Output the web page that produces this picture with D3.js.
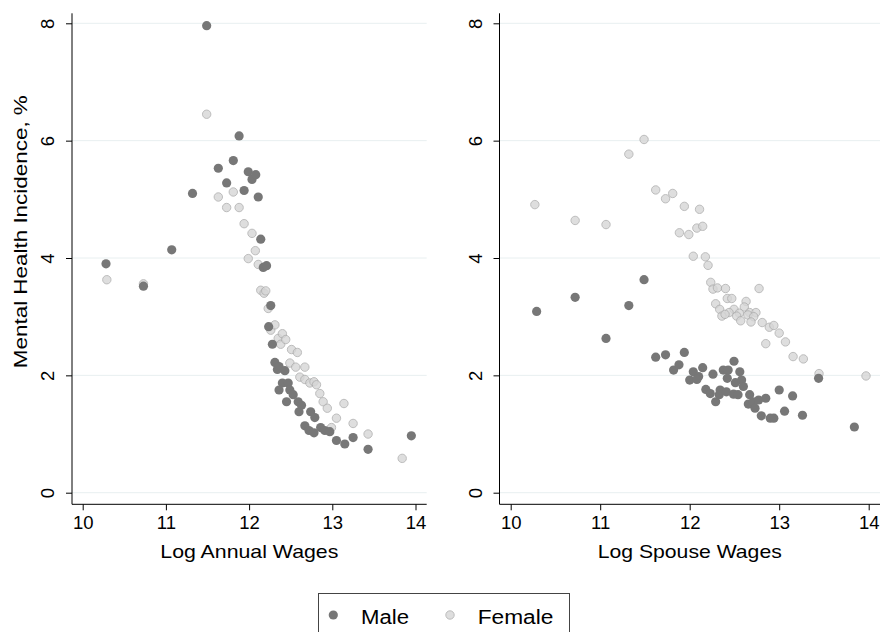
<!DOCTYPE html>
<html><head><meta charset="utf-8">
<script src="https://cdn.jsdelivr.net/npm/d3@7"></script>
<style>body{margin:0;background:#fff}svg{display:block}text{font-family:"Liberation Sans",Arial,sans-serif;fill:#000}</style>
</head><body><svg id="c" width="880" height="632"></svg>
<script>
// ---- data ----
const xTicks = [10, 11, 12, 13, 14];
const yTicks = [0, 2, 4, 6, 8];
const seriesNames = ["Male", "Female"];
const panelTitles = ["Log Annual Wages", "Log Spouse Wages"];
const yTitle = "Mental Health Incidence, %";

const annualMaleX = [10.28,10.73,11.07,11.32,11.49,11.63,11.73,11.81,11.88,11.94,11.99,12.035,12.08,12.11,12.14,12.17,12.21,12.26,12.235,12.28,12.31,12.34,12.36,12.43,12.40,12.47,12.36,12.49,12.53,12.45,12.59,12.63,12.60,12.74,12.79,12.67,12.72,12.78,12.86,12.91,12.97,13.05,13.15,13.25,13.43,13.95];
const annualMaleY = [3.90,3.52,4.14,5.10,7.96,5.53,5.28,5.66,6.08,5.15,5.47,5.34,5.42,5.04,4.32,3.84,3.87,3.19,2.83,2.53,2.22,2.10,2.15,2.08,1.87,1.87,1.75,1.75,1.67,1.55,1.55,1.49,1.38,1.38,1.28,1.14,1.06,1.02,1.11,1.06,1.04,0.89,0.83,0.94,0.74,0.97];
const annualFemaleX = [10.29,10.73,11.49,11.63,11.73,11.81,11.88,11.94,11.99,12.035,12.075,12.11,12.14,12.18,12.20,12.23,12.26,12.31,12.35,12.38,12.40,12.44,12.51,12.58,12.49,12.56,12.67,12.61,12.67,12.73,12.78,12.81,12.85,12.89,12.94,13.14,13.05,12.99,13.25,13.43,13.84];
const annualFemaleY = [3.63,3.56,6.45,5.04,4.86,5.125,4.86,4.585,3.99,4.42,4.125,3.89,3.45,3.40,3.44,3.14,2.77,2.86,2.63,2.53,2.71,2.61,2.44,2.39,2.21,2.14,2.14,1.97,1.93,1.87,1.89,1.84,1.69,1.55,1.44,1.52,1.27,1.11,1.18,1.00,0.585];

const spouseMaleX = [10.29,10.72,11.065,11.32,11.49,11.62,11.73,11.82,11.88,11.94,12.00,12.04,12.10,12.08,12.145,12.26,12.18,12.23,12.29,12.33,12.375,12.43,12.495,12.42,12.34,12.41,12.49,12.54,12.56,12.51,12.58,12.60,12.67,12.655,12.71,12.77,12.85,12.73,12.80,12.90,12.94,13.00,13.06,13.15,13.26,13.44,13.84];
const spouseMaleY = [3.09,3.33,2.63,3.19,3.63,2.31,2.35,2.09,2.18,2.39,1.92,2.06,1.98,1.93,2.13,2.02,1.76,1.69,1.55,1.67,2.09,2.09,2.24,1.95,1.75,1.72,1.68,1.67,2.06,1.875,1.92,1.81,1.67,1.51,1.55,1.58,1.61,1.44,1.31,1.27,1.27,1.75,1.39,1.65,1.32,1.95,1.12];
const spouseFemaleX = [10.27,10.72,11.065,11.32,11.49,11.62,11.73,11.81,11.94,12.11,11.885,11.99,12.08,12.145,12.04,12.175,12.205,12.235,12.26,12.31,12.40,12.775,12.42,12.47,12.63,12.29,12.335,12.495,12.61,12.44,12.555,12.67,12.74,12.36,12.395,12.525,12.65,12.715,12.57,12.685,12.81,12.89,12.94,13.00,13.07,12.85,13.155,13.27,13.445,13.97];
const spouseFemaleY = [4.91,4.64,4.57,5.77,6.02,5.16,5.01,5.10,4.88,4.83,4.43,4.40,4.51,4.54,4.03,4.02,3.875,3.585,3.47,3.49,3.48,3.48,3.31,3.31,3.26,3.22,3.125,3.125,3.165,3.07,3.06,3.07,3.07,3.01,3.04,3.01,3.03,3.00,2.93,2.91,2.90,2.82,2.85,2.72,2.57,2.54,2.32,2.28,2.03,1.99];

// ---- layout ----
const svg = d3.select("#c");
const maleStyle = {fill:"#777777", stroke:"none", r:4.6, op:1};
const femaleStyle = {fill:"#d6d6d6", stroke:"#adadad", r:4.2, op:0.8};

const panels = [
  {left:72, right:426.7, x0:82.7, x1:415.5, title:panelTitles[0], titleLen:178, showYTitle:true,
   male:[annualMaleX, annualMaleY], female:[annualFemaleX, annualFemaleY]},
  {left:499.5, right:880, x0:510.7, x1:868.7, title:panelTitles[1], titleLen:184, showYTitle:false,
   male:[spouseMaleX, spouseMaleY], female:[spouseFemaleX, spouseFemaleY]}
];
const plotTop = 13.3, plotBottom = 504.3;
const y = d3.scaleLinear().domain([0, 8]).range([492.7, 23.3]);

panels.forEach(p => {
  const x = d3.scaleLinear().domain([10, 14]).range([p.x0, p.x1]);
  const g = svg.append("g");
  // gridlines
  g.selectAll(".grid").data(yTicks).enter().append("line")
    .attr("x1", p.left).attr("x2", p.right)
    .attr("y1", d => y(d)).attr("y2", d => y(d))
    .attr("stroke", "#e8eff0").attr("stroke-width", 1);
  // female points
  const fd = p.female[0].map((v, i) => [v, p.female[1][i]]);
  g.selectAll(".f").data(fd).enter().append("circle")
    .attr("cx", d => x(d[0])).attr("cy", d => y(d[1])).attr("r", femaleStyle.r)
    .attr("fill", femaleStyle.fill).attr("stroke", femaleStyle.stroke).attr("stroke-width", 1)
    .attr("opacity", femaleStyle.op);
  // male points
  const md = p.male[0].map((v, i) => [v, p.male[1][i]]);
  g.selectAll(".m").data(md).enter().append("circle")
    .attr("cx", d => x(d[0])).attr("cy", d => y(d[1])).attr("r", maleStyle.r)
    .attr("fill", maleStyle.fill);
  // x axis
  const xa = g.append("g").attr("transform", `translate(0,${plotBottom})`)
    .call(d3.axisBottom(x).tickValues(xTicks).tickSize(6).tickSizeOuter(0).tickFormat(d3.format("d")));
  xa.select(".domain").remove();
  xa.selectAll(".tick line").attr("stroke", "#000");
  xa.selectAll(".tick text").attr("font-size", 18.5).attr("dy", 0).attr("y", 25)
    .attr("font-family", '"Liberation Sans", Arial, sans-serif').attr("fill", "#000");
  g.append("line").attr("x1", p.left).attr("x2", p.right).attr("y1", plotBottom).attr("y2", plotBottom)
    .attr("stroke", "#000").attr("stroke-width", 1);
  // y axis
  const ya = g.append("g").attr("transform", `translate(${p.left},0)`)
    .call(d3.axisLeft(y).tickValues(yTicks).tickSize(6).tickSizeOuter(0));
  ya.select(".domain").remove();
  ya.selectAll(".tick line").attr("stroke", "#000");
  ya.selectAll(".tick text").attr("font-size", 18.5).attr("transform", "rotate(-90)")
    .attr("x", 0).attr("y", -18).attr("dy", 0).attr("text-anchor", "middle")
    .attr("font-family", '"Liberation Sans", Arial, sans-serif').attr("fill", "#000");
  g.append("line").attr("x1", p.left).attr("x2", p.left).attr("y1", plotTop).attr("y2", plotBottom)
    .attr("stroke", "#000").attr("stroke-width", 1);
  // x title
  g.append("text").attr("x", (p.left + p.right) / 2).attr("y", 557.5)
    .attr("text-anchor", "middle").attr("font-size", 18.6)
    .attr("textLength", p.titleLen).attr("lengthAdjust", "spacingAndGlyphs")
    .text(p.title);
  if (p.showYTitle) {
    g.append("text").attr("transform", "translate(26.5,231.7) rotate(-90)")
      .attr("text-anchor", "middle").attr("font-size", 18.6)
      .attr("textLength", 273).attr("lengthAdjust", "spacingAndGlyphs")
      .text(yTitle);
  }
});

// legend
const lg = svg.append("g");
lg.append("rect").attr("x", 318.5).attr("y", 593.5).attr("width", 251).attr("height", 60)
  .attr("fill", "#fff").attr("stroke", "#444").attr("stroke-width", 1);
const legendItems = [
  {name: seriesNames[0], cx: 333.3, tx: 361, len: 48, st: maleStyle},
  {name: seriesNames[1], cx: 450, tx: 477.7, len: 75.7, st: femaleStyle}
];
legendItems.forEach(it => {
  lg.append("circle").attr("cx", it.cx).attr("cy", 615).attr("r", it.st.r)
    .attr("fill", it.st.fill).attr("stroke", it.st.stroke).attr("stroke-width", 1).attr("opacity", it.st.op);
  lg.append("text").attr("x", it.tx).attr("y", 624).attr("font-size", 19.5)
    .attr("textLength", it.len).attr("lengthAdjust", "spacingAndGlyphs").text(it.name);
});
</script></body></html>
